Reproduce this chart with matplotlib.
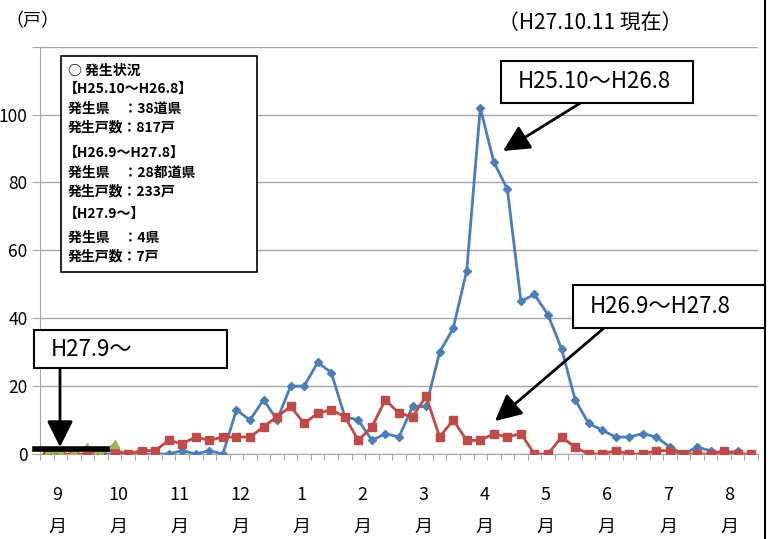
import numpy as np
import matplotlib
matplotlib.use('Agg')
import matplotlib.pyplot as plt
from matplotlib.patches import Rectangle
from matplotlib.lines import Line2D
from matplotlib.transforms import blended_transform_factory

plt.rcParams['font.family'] = ['Noto Sans CJK JP', 'DejaVu Sans']

# Data: weekly outbreak counts (戸), September -> August, 53 weeks
nan = np.nan
months = ['9', '10', '11', '12', '1', '2', '3', '4', '5', '6', '7', '8']

h25_10 = [nan, nan, nan, nan, 0, 0, 0, 0, 0, 0,
          1, 0, 1, 0, 13, 10, 16, 10, 20, 20,
          27, 24, 11, 10, 4, 6, 5, 14, 14, 30,
          37, 54, 102, 86, 78, 45, 47, 41, 31, 16,
          9, 7, 5, 5, 6, 5, 2, 0, 2, 1,
          0, 1]
h26_9 = [0, 0, 0, 0, 1, 1, 0, 1, 1, 4,
         3, 5, 4, 5, 5, 5, 8, 11, 14, 9,
         12, 13, 11, 4, 8, 16, 12, 11, 17, 5,
         10, 4, 4, 6, 5, 6, 0, 0, 5, 2,
         0, 0, 1, 0, 0, 1, 1, 0, 0, 0,
         1, 0, 0]
h27_9 = [0, 1, 1, 2, 0, 3]

yticks = [0, 20, 40, 60, 80, 100, 120]

legend_lines = ['○ 発生状況', '【H25.10～H26.8】', '発生県　：38道県', '発生戸数：817戸',
                '【H26.9～H27.8】', '発生県　：28都道県', '発生戸数：233戸',
                '【H27.9～】', '発生県　：4県', '発生戸数：7戸']

W, H = 770, 539


def fx(px):
    return px / W


def fy(py):
    return 1 - py / H


fig = plt.figure(figsize=(7.7, 5.39), dpi=100)
ax = fig.add_axes([fx(40), fy(454), fx(758) - fx(40), fy(46.7) - fy(454)])

ax.plot(np.arange(len(h25_10)), h25_10, color='#4a7ebb', lw=2, marker='D',
        ms=4, zorder=3)
ax.plot(np.arange(len(h26_9)), h26_9, color='#be4b48', lw=2, marker='s',
        ms=6, zorder=4)
ax.plot(np.arange(len(h27_9)), h27_9, color='#98b954', lw=2, marker='^',
        ms=6, zorder=5)

ax.set_xlim(-0.5, 52.5)
ax.set_ylim(0, 120)
ax.set_yticks(yticks)
ax.set_yticklabels([str(v) if v < 120 else '' for v in yticks], fontsize=12.5)
ax.tick_params(axis='y', length=6, color='#a6a6a6', pad=3)
ax.yaxis.grid(True, color='#a6a6a6', lw=1)
ax.set_axisbelow(True)
ax.set_xticks(np.arange(-0.5, 53, 1))
ax.set_xticklabels([])
ax.tick_params(axis='x', length=4, color='#a6a6a6')
for s in ['top', 'right']:
    ax.spines[s].set_visible(False)
for s in ['left', 'bottom']:
    ax.spines[s].set_color('#a6a6a6')

# month labels
tr = blended_transform_factory(ax.transData, fig.transFigure)
for i, m in enumerate(months):
    xpos = 0.76 + 4.51 * i
    ax.text(xpos, fy(495), m, transform=tr, ha='center', va='center', fontsize=13)
    ax.text(xpos, fy(527), '月', transform=tr, ha='center', va='center', fontsize=13)

fig.text(fx(32), fy(21), '（戸）', ha='center', va='center', fontsize=13)
fig.text(fx(590), fy(23), '（H27.10.11 現在）', ha='center', va='center', fontsize=15)

# legend box
fig.add_artist(Rectangle((fx(61), fy(272)), fx(257) - fx(61), fy(56) - fy(272),
                         transform=fig.transFigure, fc='white', ec='black', lw=1.2,
                         zorder=6))
line_y = [70.7, 89.3, 109.3, 127.3, 153.3, 172.7, 191.7, 214, 238.3, 256.7]
for txt, py in zip(legend_lines, line_y):
    x0 = 64 if txt.startswith('【') else 68
    fig.text(fx(x0), fy(py), txt, ha='left', va='center', fontsize=10,
             fontweight='bold', zorder=7)


def callout(x0, y0, x1, y1, label, tail, head):
    fig.add_artist(Rectangle((fx(x0), fy(y1)), fx(x1) - fx(x0), fy(y0) - fy(y1),
                             transform=fig.transFigure, fc='white', ec='black',
                             lw=1.5, zorder=6))
    fig.text(fx(x0 + 17), fy((y0 + y1) / 2), label, ha='left', va='center',
             fontsize=16, zorder=7)
    ax.annotate('', xy=(fx(head[0]), fy(head[1])), xytext=(fx(tail[0]), fy(tail[1])),
                xycoords='figure fraction', textcoords='figure fraction',
                annotation_clip=False, zorder=8,
                arrowprops=dict(arrowstyle='-|>,head_length=0.8,head_width=0.4',
                                lw=2, color='black', mutation_scale=20,
                                shrinkA=0, shrinkB=0))


callout(501, 61, 693, 103, 'H25.10～H26.8', (582, 102), (503, 151))
callout(573, 285, 765, 328, 'H26.9～H27.8', (604, 328), (495, 421))
callout(34, 330, 227, 368, 'H27.9～', (60, 368), (60, 447))

# bar marking the H27.9~ period
fig.add_artist(Line2D([fx(35), fx(107)], [fy(449), fy(449)], color='black', lw=4,
                      transform=fig.transFigure, zorder=9))
# right frame line
fig.add_artist(Line2D([fx(765), fx(765)], [0, 1], color='black', lw=1.5,
                      transform=fig.transFigure))

fig.savefig('out.png', dpi=100, facecolor='white')
